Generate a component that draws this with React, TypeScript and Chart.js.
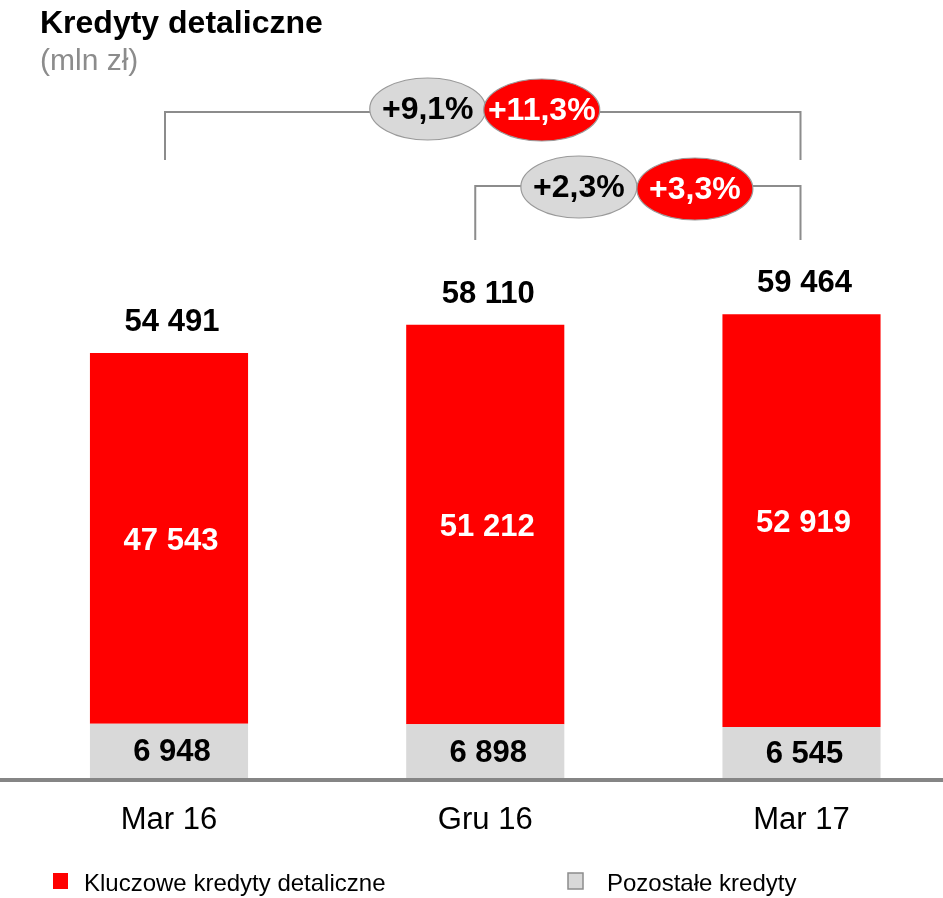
import { useEffect, useRef } from 'react';
import { Chart, registerables } from 'chart.js';

Chart.register(...registerables);

const categories = ['Mar 16', 'Gru 16', 'Mar 17'];
const keyLoans = [47543, 51212, 52919];
const otherLoans = [6948, 6898, 6545];
const seriesNames = ['Kluczowe kredyty detaliczne', 'Pozostałe kredyty'];
const yoyGrowth = ['+9,1%', '+11,3%'];
const qoqGrowth = ['+2,3%', '+3,3%'];
const titleText = 'Kredyty detaliczne';
const unitText = '(mln zł)';

const RED = '#ff0000';
const GREY = '#d9d9d9';
const LINE = '#8c8c8c';
const FONT = '"Liberation Sans", Arial, sans-serif';

const fmt = (n: number) => String(n).replace(/\B(?=(\d{3})+(?!\d))/g, ' ');

const decorPlugin = {
  id: 'decor',
  afterDatasetsDraw(chart: any) {
    const ctx = chart.ctx;
    const y = chart.scales.y;
    const zero = y.getPixelForValue(0);
    ctx.save();
    // baseline
    ctx.fillStyle = '#858585';
    ctx.fillRect(0, zero, chart.width, 4);

    const grey = chart.getDatasetMeta(0).data;
    const red = chart.getDatasetMeta(1).data;
    ctx.textAlign = 'center';
    ctx.textBaseline = 'middle';
    ctx.font = `bold 31px ${FONT}`;
    for (let i = 0; i < categories.length; i++) {
      const g = grey[i];
      const r = red[i];
      ctx.fillStyle = '#000';
      ctx.fillText(fmt(otherLoans[i]), g.x + 3, (g.y + g.base) / 2 + 2);
      ctx.fillStyle = '#fff';
      ctx.fillText(fmt(keyLoans[i]), r.x + 2, (r.y + r.base) / 2 + 3);
      ctx.fillStyle = '#000';
      ctx.textBaseline = 'alphabetic';
      ctx.fillText(fmt(keyLoans[i] + otherLoans[i]), r.x + 3, r.y - 22);
      ctx.textBaseline = 'middle';
    }
    ctx.restore();
  },
  afterDraw(chart: any) {
    const ctx = chart.ctx;
    const x = chart.scales.x;
    ctx.save();
    // title
    ctx.textAlign = 'left';
    ctx.textBaseline = 'alphabetic';
    ctx.fillStyle = '#000';
    ctx.font = `bold 32px ${FONT}`;
    ctx.fillText(titleText, 40, 33);
    ctx.fillStyle = '#8c8c8c';
    ctx.font = `30px ${FONT}`;
    ctx.fillText(unitText, 40, 70);

    // brackets
    const x0 = x.getPixelForValue(0) - 4;
    const x1 = x.getPixelForValue(1) - 10;
    const x2 = x.getPixelForValue(2) - 1;
    ctx.strokeStyle = LINE;
    ctx.lineWidth = 2;
    ctx.beginPath();
    ctx.moveTo(x0, 160);
    ctx.lineTo(x0, 112);
    ctx.lineTo(x2, 112);
    ctx.lineTo(x2, 160);
    ctx.moveTo(x1, 240);
    ctx.lineTo(x1, 186);
    ctx.lineTo(x2, 186);
    ctx.lineTo(x2, 240);
    ctx.stroke();

    const pill = (cx: number, cy: number, fill: string, color: string, text: string) => {
      ctx.beginPath();
      ctx.ellipse(cx, cy, 58, 31, 0, 0, Math.PI * 2);
      ctx.fillStyle = fill;
      ctx.fill();
      ctx.strokeStyle = '#9a9a9a';
      ctx.lineWidth = 1.2;
      ctx.stroke();
      ctx.fillStyle = color;
      ctx.font = `bold 32px ${FONT}`;
      ctx.textAlign = 'center';
      ctx.textBaseline = 'middle';
      ctx.fillText(text, cx, cy + 1);
    };
    const m1 = (x0 + x2) / 2 + 2;
    pill(m1 - 57, 109, GREY, '#000', yoyGrowth[0]);
    pill(m1 + 57, 110, RED, '#fff', yoyGrowth[1]);
    const m2 = (x1 + x2) / 2 - 1;
    pill(m2 - 58, 187, GREY, '#000', qoqGrowth[0]);
    pill(m2 + 58, 189, RED, '#fff', qoqGrowth[1]);

    // legend
    ctx.textAlign = 'left';
    ctx.textBaseline = 'alphabetic';
    ctx.font = `24px ${FONT}`;
    ctx.fillStyle = RED;
    ctx.fillRect(53, 873, 15, 16);
    ctx.fillStyle = '#000';
    ctx.fillText(seriesNames[0], 84, 891);
    ctx.fillStyle = GREY;
    ctx.fillRect(568, 873, 15, 16);
    ctx.strokeStyle = '#8c8c8c';
    ctx.lineWidth = 1.5;
    ctx.strokeRect(568, 873, 15, 16);
    ctx.fillStyle = '#000';
    ctx.fillText(seriesNames[1], 607, 891);
    ctx.restore();
  },
};

export default function App() {
  const ref = useRef<HTMLCanvasElement>(null);
  useEffect(() => {
    document.body.style.margin = '0';
    const chart = new Chart(ref.current!, {
      type: 'bar',
      data: {
        labels: categories,
        datasets: [
          { label: seriesNames[1], data: otherLoans, backgroundColor: GREY, borderWidth: 0 },
          { label: seriesNames[0], data: keyLoans, backgroundColor: RED, borderWidth: 0 },
        ],
      },
      options: {
        animation: false,
        responsive: true,
        maintainAspectRatio: false,
        layout: { padding: { left: 169, right: 141.5, top: 232, bottom: 34.8 } },
        datasets: { bar: { categoryPercentage: 1, barPercentage: 0.5, clip: false as any } },
        plugins: { legend: { display: false }, tooltip: { enabled: false }, title: { display: false } },
        scales: {
          x: {
            stacked: true,
            offset: false,
            grid: { display: false, drawTicks: false },
            border: { display: false },
            ticks: {
              padding: 24,
              color: '#000',
              font: { family: FONT, size: 31 },
              maxRotation: 0,
              autoSkip: false,
            },
          },
          y: { stacked: true, display: false, min: 0, max: 70000 },
        },
      },
      plugins: [decorPlugin],
    });
    return () => chart.destroy();
  }, []);
  return (
    <div style={{ width: 943, height: 898, position: 'relative' }}>
      <canvas ref={ref} />
    </div>
  );
}
